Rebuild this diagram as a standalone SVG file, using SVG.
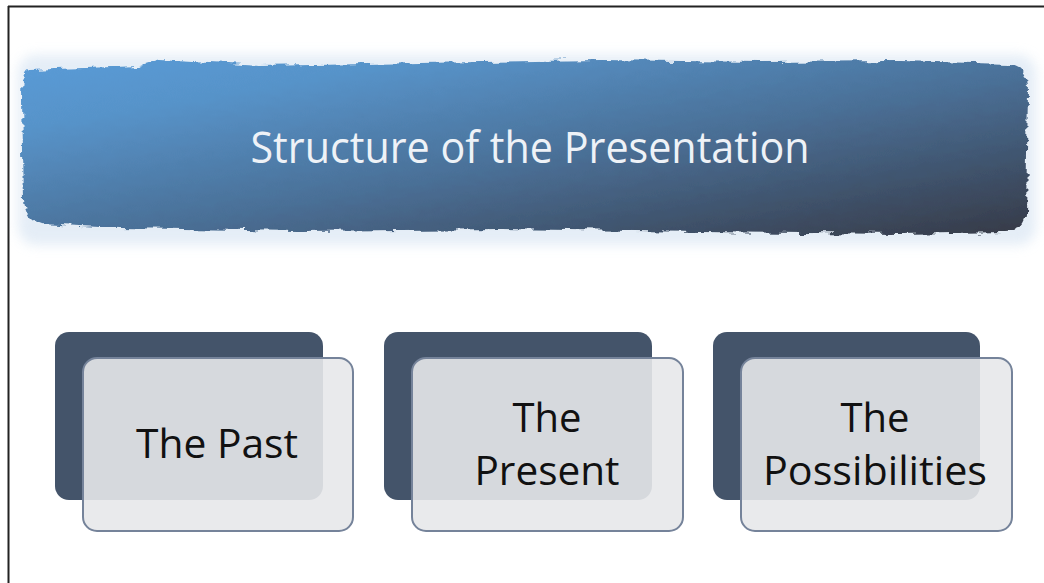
<svg xmlns="http://www.w3.org/2000/svg" width="1044" height="583" viewBox="0 0 1044 583">
  <style>
    .dark { fill: #44546a; }
    .light { fill: #e7e8ea; fill-opacity: 0.9; stroke: #75839a; stroke-width: 2; }
    .lbl { font-family: "Open Sans", "Noto Sans", sans-serif; font-size: 40px; fill: #111111; text-anchor: middle; }
    .title { font-family: "Open Sans", "Noto Sans", sans-serif; font-size: 43px; fill: #eef2f7; }
  </style>
  <defs>
    <linearGradient id="bannerGrad" x1="0" y1="0" x2="1" y2="1">
      <stop offset="0" stop-color="#5a9bd7"/>
      <stop offset="0.2" stop-color="#5793c9"/>
      <stop offset="0.55" stop-color="#4a6f96"/>
      <stop offset="1" stop-color="#363a47"/>
    </linearGradient>
    <filter id="rough" x="-5%" y="-20%" width="110%" height="140%">
      <feTurbulence type="fractalNoise" baseFrequency="0.06 0.15" numOctaves="3" seed="4" result="n"/>
      <feDisplacementMap in="SourceGraphic" in2="n" scale="9" xChannelSelector="R" yChannelSelector="G"/>
    </filter>
    <filter id="halo" x="-10%" y="-40%" width="120%" height="180%">
      <feGaussianBlur stdDeviation="6"/>
    </filter>
    <linearGradient id="cardGrad" x1="0" y1="0" x2="0" y2="1">
      <stop offset="0" stop-color="#e3e4e6"/>
      <stop offset="1" stop-color="#eeeeef"/>
    </linearGradient>
  </defs>

  <rect x="0" y="0" width="1044" height="583" fill="#ffffff"/>
  <line x1="8" y1="6.5" x2="1044" y2="6.5" stroke="#222222" stroke-width="2"/>
  <line x1="8.5" y1="6" x2="8.5" y2="583" stroke="#222222" stroke-width="2"/>

  <g id="banner">
    <rect x="18" y="55" width="1018" height="190" rx="18" fill="#cfdff0" opacity="0.55" filter="url(#halo)"/>
    <path d="M28,70 L140,66 L160,60 L260,66 L420,63 L600,60 L760,62 L900,61 L1010,64 Q1028,66 1028,90 L1026,215 Q1024,232 1005,232 L900,234 L700,232 L500,229 L300,231 L120,228 L40,224 Q25,220 24,200 L22,100 Q22,72 28,70 Z" fill="url(#bannerGrad)" filter="url(#rough)"/>
    <text class="title" x="530" y="163" text-anchor="middle" textLength="559" lengthAdjust="spacingAndGlyphs">Structure of the Presentation</text>
  </g>

  <g id="card-past">
    <rect class="dark" x="55" y="332" width="268" height="168" rx="14"/>
    <rect class="light" x="83" y="358" width="270" height="173" rx="14" fill="url(#cardGrad)"/>
    <text class="lbl" x="217" y="458" textLength="162" lengthAdjust="spacingAndGlyphs">The Past</text>
  </g>

  <g id="card-present">
    <rect class="dark" x="384" y="332" width="268" height="168" rx="14"/>
    <rect class="light" x="412" y="358" width="271" height="173" rx="14" fill="url(#cardGrad)"/>
    <text class="lbl" x="547" y="432">The</text>
    <text class="lbl" x="547" y="485" textLength="145" lengthAdjust="spacingAndGlyphs">Present</text>
  </g>

  <g id="card-possibilities">
    <rect class="dark" x="713" y="332" width="267" height="168" rx="14"/>
    <rect class="light" x="741" y="358" width="271" height="173" rx="14" fill="url(#cardGrad)"/>
    <text class="lbl" x="875" y="432">The</text>
    <text class="lbl" x="875" y="485" textLength="224" lengthAdjust="spacingAndGlyphs">Possibilities</text>
  </g>

  <g id="connectors"></g>
</svg>
